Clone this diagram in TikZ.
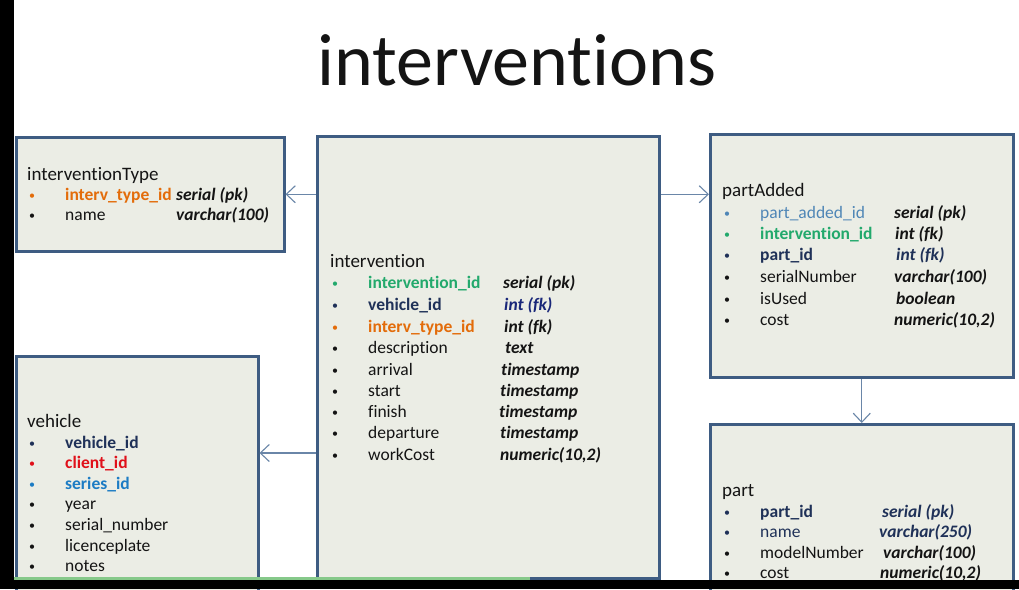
\documentclass[tikz,border=0pt]{standalone}
\usepackage{fontspec}
\setmainfont{Carlito}[Ligatures=CommonOff,RawFeature=-liga,RawFeature=-clig,RawFeature=-calt,RawFeature=-dlig]
\usetikzlibrary{arrows.meta}
\definecolor{boxfill}{HTML}{EBEDE5}
\definecolor{boxline}{HTML}{3E5C82}
\definecolor{arrowc}{HTML}{6A86A8}
\definecolor{corange}{HTML}{E36C0A}
\definecolor{cgreen}{HTML}{22A96C}
\definecolor{cnavy}{HTML}{1F3158}
\definecolor{cred}{HTML}{E0101A}
\definecolor{cblue}{HTML}{1C7CC4}
\definecolor{csteel}{HTML}{4F86B6}
\definecolor{ctext}{HTML}{141414}
\definecolor{cbar}{HTML}{86C98A}
\tikzset{
  tbl/.style={draw=boxline, line width=2.5pt, fill=boxfill, anchor=north west, inner sep=0pt},
  ttl/.style={anchor=base west, inner sep=0pt, text=ctext, font=\fontsize{19}{22}\selectfont},
  bul/.style={anchor=base west, inner sep=0pt, yshift=1pt, font=\fontsize{12}{14}\selectfont},
  fld/.style={anchor=base west, inner sep=0pt, font=\fontsize{17.5}{20}\selectfont},
  typ/.style={anchor=base west, inner sep=0pt, text=ctext, font=\fontsize{17.5}{20}\selectfont\bfseries\itshape},
  rel/.style={draw=arrowc, line width=1.1pt, -{Straight Barb[length=9pt,width=17pt,line width=1.1pt]}},
}
% name, x bullet, x field, x type, y baseline, colour, field, type
\newcommand\erow[8]{%
  \node[bul,text=#6] (#1b) at (#2,#5) {•};
  \node[fld,text=#6] (#1f) at (#3,#5) {#7};
  \node[typ] (#1t) at (#4,#5) {#8};}
% name, x bullet, x field, y baseline, colour, field
\newcommand\frow[6]{%
  \node[bul,text=#5] (#1b) at (#2,#4) {•};
  \node[fld,text=#5] (#1f) at (#3,#4) {#6};}
\begin{document}
\begin{tikzpicture}[x=1pt,y=-1pt]
\useasboundingbox (0,0) rectangle (1019,589);
\fill[white] (0,0) rectangle (1019,589);

\node[ttl, anchor=base, font=\fontsize{74}{80}\selectfont] (title) at (517,85) {interventions};

% boxes
\node[tbl, minimum width=268, minimum height=114] (itype) at (15,136) {};
\node[tbl, minimum width=342, minimum height=442] (int) at (316,135) {};
\node[tbl, minimum width=303, minimum height=243] (pa) at (709,133) {};
\node[tbl, minimum width=242, minimum height=240] (veh) at (15,355) {};
\node[tbl, minimum width=303, minimum height=177] (part) at (709,423) {};

% interventionType
\node[ttl] (itypeT) at (27,180) {interventionType};
\erow{ia}{29}{65}{176}{200}{corange}{\bfseries interv\_type\_id}{serial (pk)}
\erow{ib}{29}{65}{176}{220}{ctext}{name}{varchar(100)}

% intervention
\node[ttl] (intT) at (330,267) {intervention};
\erow{na}{332}{368}{503}{288}{cgreen}{\bfseries intervention\_id}{serial (pk)}
\erow{nb}{332}{368}{504}{310}{cnavy}{\bfseries vehicle\_id}{\color{cnavy!80!blue}int (fk)}
\erow{nc}{332}{368}{504}{332}{corange}{\bfseries interv\_type\_id}{int (fk)}
\erow{nd}{332}{368}{505}{353}{ctext}{description}{text}
\erow{ne}{332}{368}{501}{375}{ctext}{arrival}{timestamp}
\erow{nf}{332}{368}{500}{396}{ctext}{start}{timestamp}
\erow{ng}{332}{368}{499}{417}{ctext}{finish}{timestamp}
\erow{nh}{332}{368}{500}{438}{ctext}{departure}{timestamp}
\erow{ni}{332}{368}{500}{460}{ctext}{workCost}{numeric(10,2)}

% partAdded
\node[ttl] (paT) at (722,196) {partAdded};
\erow{pa1}{724}{760}{894}{218}{csteel}{part\_added\_id}{serial (pk)}
\erow{pa2}{724}{760}{895}{239}{cgreen}{\bfseries intervention\_id}{int (fk)}
\erow{pa3}{724}{760}{896}{260}{cnavy}{\bfseries part\_id}{\color{cnavy}int (fk)}
\erow{pa4}{724}{760}{894}{282}{ctext}{serialNumber}{varchar(100)}
\erow{pa5}{724}{760}{896}{304}{ctext}{isUsed}{boolean}
\erow{pa6}{724}{760}{894}{325}{ctext}{cost}{numeric(10,2)}

% vehicle
\node[ttl] (vehT) at (27,427) {vehicle};
\frow{va}{29}{65}{448}{cnavy}{\bfseries vehicle\_id}
\frow{vb}{29}{65}{468}{cred}{\bfseries client\_id}
\frow{vc}{29}{65}{489}{cblue}{\bfseries series\_id}
\frow{vd}{29}{65}{509}{ctext}{year}
\frow{ve}{29}{65}{530}{ctext}{serial\_number}
\frow{vf}{29}{65}{551}{ctext}{licenceplate}
\frow{vg}{29}{65}{571}{ctext}{notes}

% part
\node[ttl] (partT) at (722,496) {part};
\erow{pb1}{724}{760}{882}{517}{cnavy}{\bfseries part\_id}{\color{cnavy}serial (pk)}
\erow{pb2}{724}{760}{879}{537}{cnavy}{name}{\color{cnavy}varchar(250)}
\erow{pb3}{724}{760}{883}{558}{ctext}{modelNumber}{varchar(100)}
\erow{pb4}{724}{760}{880}{578}{ctext}{cost}{numeric(10,2)}

% connectors
\coordinate (vy) at (0,453);
\draw[rel] (int.west |- itype.east) -- (itype.east);
\draw[rel] (int.east |- itype.east) -- (pa.west |- itype.east);
\draw[rel] (int.west |- vy) -- (veh.east |- vy);
\draw[rel] (pa.south) -- (part.north);

% screen frame
\fill[black] (0,0) rectangle (14,589);
\fill[black] (0,580) rectangle (1019,589);
\fill[cbar] (14,577) rectangle (530,580);
\end{tikzpicture}
\end{document}
